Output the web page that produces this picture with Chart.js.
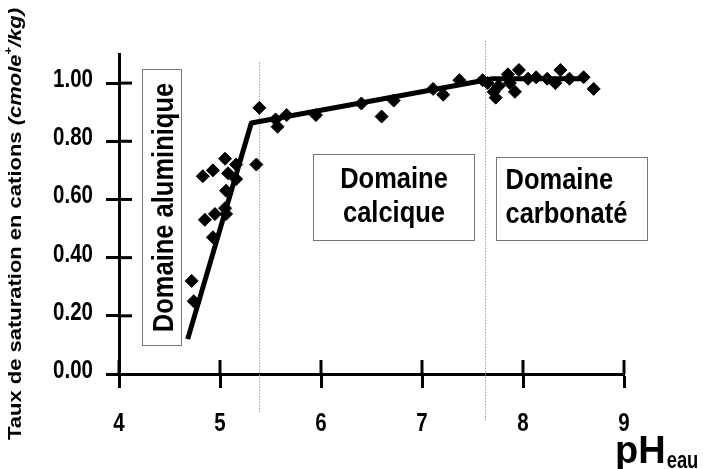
<!DOCTYPE html>
<html><head><meta charset="utf-8">
<script src="https://cdn.jsdelivr.net/npm/chart.js@4.4.1/dist/chart.umd.min.js"></script>
<style>html,body{margin:0;padding:0;background:#fff;}#wrap{width:703px;height:469px;position:relative;}</style>
</head><body><div id="wrap"><canvas id="c" width="703" height="469"></canvas></div>
<script>
const FONT = "'Liberation Sans',Arial,sans-serif";
const NARROW = 0.82;
const xTicks = [4, 5, 6, 7, 8, 9];
const yTicks = [0, 0.2, 0.4, 0.6, 0.8, 1.0];
const obsPH  = [4.72,4.74,4.83,4.85,4.93,4.93,4.95,5.05,5.05,5.06,5.06,5.08,5.16,5.16,5.36,5.39,
                5.55,5.57,5.66,5.95,6.40,6.60,6.72,7.11,7.21,7.37,
                7.60,7.65,7.71,7.73,7.76,7.85,7.87,7.92,7.96,8.05,8.13,8.24,8.32,8.37,8.46,8.60,8.70];
const obsSat = [0.32,0.25,0.68,0.53,0.70,0.47,0.55,0.74,0.57,0.55,0.63,0.69,0.72,0.67,0.72,0.915,
                0.875,0.85,0.89,0.89,0.93,0.885,0.94,0.98,0.96,1.01,
                1.01,1.00,0.97,0.95,0.99,1.03,1.00,0.97,1.045,1.015,1.02,1.015,1.00,1.045,1.015,1.02,0.98];
const fitPH  = [4.68, 5.31, 7.70, 8.62];
const fitSat = [0.12, 0.863, 1.015, 1.015];
const limitPH = [5.385, 7.62];
const limitTop = [1.07, 1.145];
const limitBottom = [-0.137, -0.16];
const domainNames = [["Domaine aluminique"], ["Domaine", "calcique"], ["Domaine", "carbonaté"]];
const boxX0 = [4.23, 5.92, 7.73];
const boxX1 = [4.61, 7.515, 9.23];
const boxY0 = [0.10, 0.46, 0.46];
const boxY1 = [1.048, 0.756, 0.746];
const yTitleMain = "Taux de saturation en cations ";
const yTitleUnit = ["(cmole", "+", "/kg)"];
const xTitle = ["pH", "eau"];

function narrowText(ctx, text, x, y, align, sx) {
  const w = ctx.measureText(text).width * sx;
  let left = x;
  if (align === 'center') left = x - w / 2; else if (align === 'right') left = x - w;
  ctx.save(); ctx.translate(left, y); ctx.scale(sx, 1); ctx.textAlign = 'left'; ctx.fillText(text, 0, 0); ctx.restore();
  return w;
}

const decor = {
  id: 'decor',
  beforeDatasetsDraw(chart) {
    const {ctx, scales: {x, y}} = chart;
    ctx.save();
    ctx.strokeStyle = '#9a9a9a'; ctx.lineWidth = 1; ctx.setLineDash([1.5, 1.5]);
    limitPH.forEach((v, i) => {
      const px = Math.round(x.getPixelForValue(v)) + 0.5;
      ctx.beginPath(); ctx.moveTo(px, y.getPixelForValue(limitTop[i])); ctx.lineTo(px, y.getPixelForValue(limitBottom[i])); ctx.stroke();
    });
    ctx.setLineDash([]);
    domainNames.forEach((lines, i) => {
      const l = Math.round(x.getPixelForValue(boxX0[i])) + 0.5, r = Math.round(x.getPixelForValue(boxX1[i])) + 0.5;
      const t = Math.round(y.getPixelForValue(boxY1[i])) + 0.5, b = Math.round(y.getPixelForValue(boxY0[i])) + 0.5;
      ctx.fillStyle = '#fff'; ctx.fillRect(l, t, r - l, b - t);
      ctx.strokeStyle = '#777'; ctx.lineWidth = 1; ctx.strokeRect(l, t, r - l, b - t);
      ctx.fillStyle = '#000';
      ctx.font = "bold 30px " + FONT;
      ctx.textBaseline = 'alphabetic';
      if (i === 0) {
        ctx.save(); ctx.translate((l + r) / 2 + 11, (t + b) / 2); ctx.rotate(-Math.PI / 2);
        narrowText(ctx, lines[0], 0, 0, 'center', 0.85); ctx.restore();
      } else if (i === 1) {
        narrowText(ctx, lines[0], (l + r) / 2, t + 33, 'center', 0.85);
        narrowText(ctx, lines[1], (l + r) / 2, t + 67, 'center', 0.85);
      } else {
        narrowText(ctx, lines[0], l + 9, t + 31, 'left', 0.85);
        narrowText(ctx, lines[1], l + 9, t + 65, 'left', 0.85);
      }
    });
    ctx.restore();
  },
  afterDraw(chart) {
    const {ctx, scales: {x, y}, chartArea: ca} = chart;
    ctx.save();
    ctx.strokeStyle = '#000'; ctx.lineWidth = 3;
    xTicks.forEach(v => { const px = x.getPixelForValue(v); ctx.beginPath(); ctx.moveTo(px, ca.bottom); ctx.lineTo(px, ca.bottom - 14); ctx.stroke(); });
    yTicks.forEach(v => { if (v === 0) return; const py = y.getPixelForValue(v); ctx.beginPath(); ctx.moveTo(ca.left, py); ctx.lineTo(ca.left + 13, py); ctx.stroke(); });
    // tick labels
    ctx.fillStyle = '#000'; ctx.font = "bold 25px " + FONT; ctx.textBaseline = 'alphabetic';
    x.ticks.forEach(t => narrowText(ctx, String(t.value), x.getPixelForValue(t.value), 431, 'center', NARROW));
    y.ticks.forEach(t => narrowText(ctx, Number(t.value).toFixed(2), 93, y.getPixelForValue(t.value) + 4, 'right', NARROW));
    // y title
    const fs = 19;
    const parts = [
      {t: yTitleMain, f: "bold " + fs + "px " + FONT, dy: 0},
      {t: yTitleUnit[0], f: "italic bold " + fs + "px " + FONT, dy: 0},
      {t: yTitleUnit[1], f: "bold " + Math.round(fs * 0.6) + "px " + FONT, dy: -fs * 0.45},
      {t: yTitleUnit[2], f: "italic bold " + fs + "px " + FONT, dy: 0}
    ];
    let total = 0;
    parts.forEach(p => { ctx.font = p.f; p.w = ctx.measureText(p.t).width; total += p.w; });
    const target = 432, sx = target / total;
    ctx.save();
    ctx.translate(21, 224); ctx.rotate(-Math.PI / 2); ctx.scale(sx, 1);
    let cx = -total / 2;
    parts.forEach(p => { ctx.font = p.f; ctx.fillText(p.t, cx, p.dy); cx += p.w; });
    ctx.restore();
    // x title
    ctx.font = "bold 38px " + FONT;
    const x0 = x.getPixelForValue(9) - 9;
    const w = narrowText(ctx, xTitle[0], x0, 463, 'left', 1.0);
    ctx.font = "bold 23px " + FONT;
    narrowText(ctx, xTitle[1], x0 + w + 1, 468, 'left', 0.8);
    ctx.restore();
  }
};

new Chart(document.getElementById('c'), {
  data: {
    datasets: [
      { type: 'line', data: fitPH.map((v, i) => ({x: v, y: fitSat[i]})), borderColor: '#000', borderWidth: 5,
        pointRadius: 0, tension: 0, fill: false, borderCapStyle: 'butt', borderJoinStyle: 'round' },
      { type: 'scatter', data: obsPH.map((v, i) => ({x: v, y: obsSat[i]})), pointStyle: 'rectRot',
        pointRadius: 6.5, backgroundColor: '#000', borderColor: '#000', borderWidth: 1 }
    ]
  },
  options: {
    responsive: false, animation: false, devicePixelRatio: 1,
    layout: { padding: { top: 54, right: 79, left: 0, bottom: 0 } },
    plugins: { legend: { display: false }, tooltip: { enabled: false } },
    scales: {
      x: { type: 'linear', min: 4, max: 9,
        afterBuildTicks: s => { s.ticks = xTicks.map(v => ({value: v})); },
        ticks: { display: false },
        grid: { display: true, drawOnChartArea: false, drawTicks: true, tickLength: 14, tickColor: '#000', tickWidth: 3 },
        border: { display: true, color: '#000', width: 3 },
        afterFit: s => { s.height = 95; } },
      y: { type: 'linear', min: 0, max: 1.1,
        afterBuildTicks: s => { s.ticks = yTicks.map(v => ({value: v})); },
        ticks: { display: false },
        grid: { display: true, drawOnChartArea: false, drawTicks: true, tickLength: 13, tickColor: '#000', tickWidth: 3 },
        border: { display: true, color: '#000', width: 3 },
        afterFit: s => { s.width = 119; } }
    }
  },
  plugins: [decor]
});
</script></body></html>
